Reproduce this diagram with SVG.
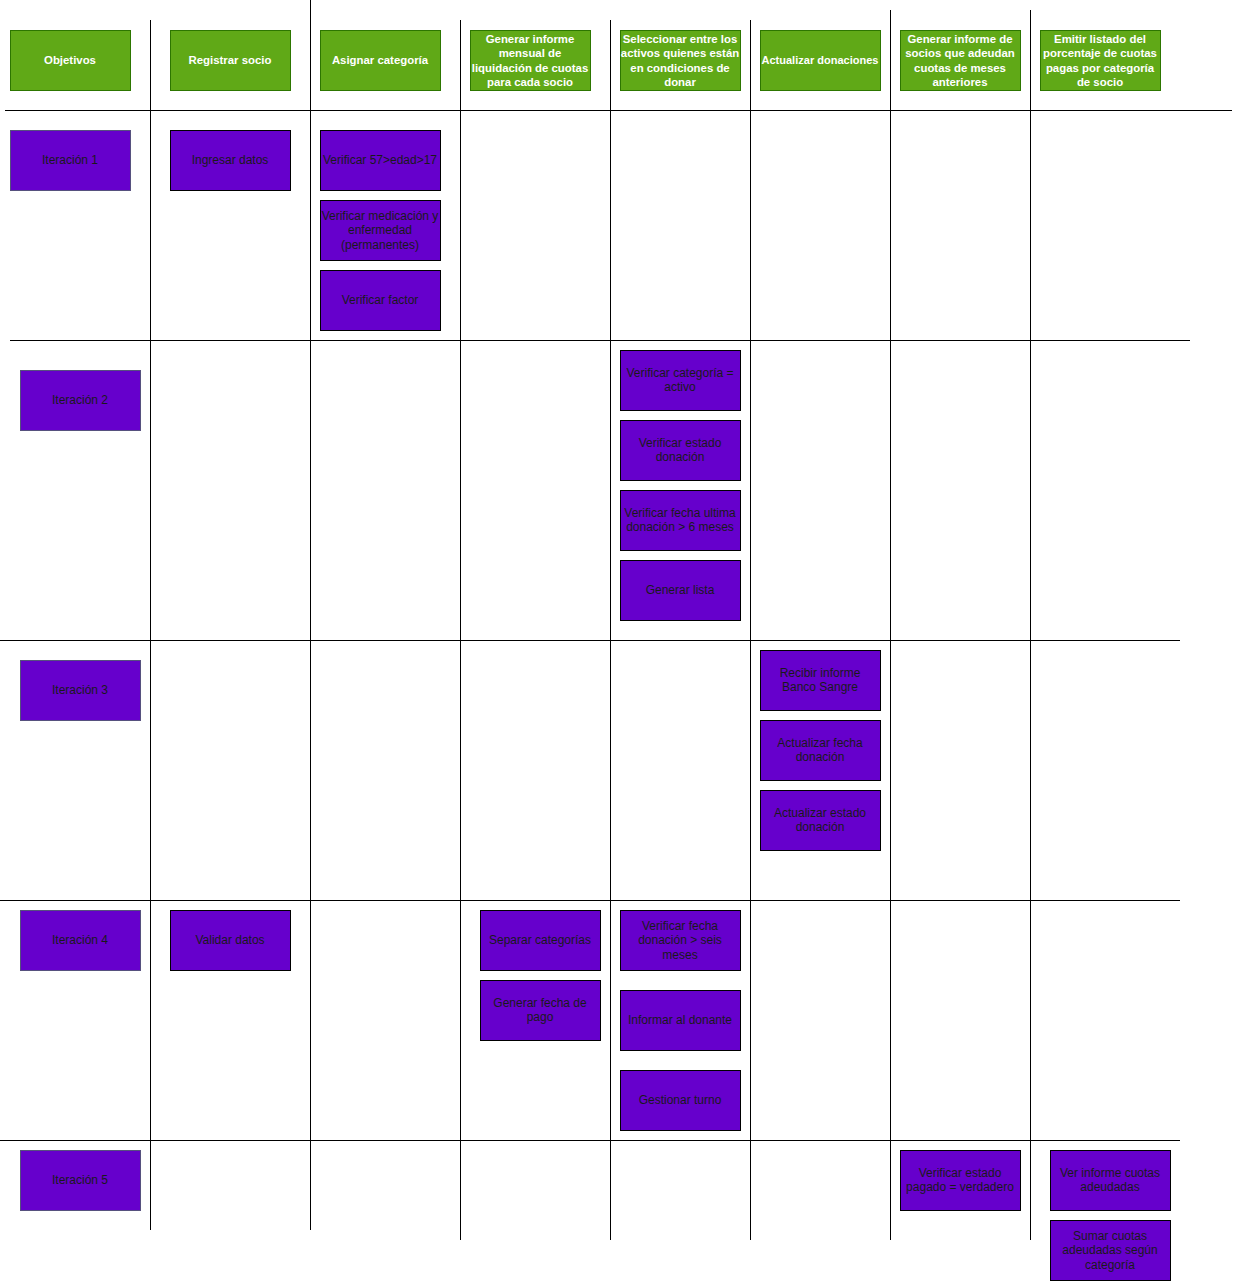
<svg xmlns="http://www.w3.org/2000/svg" width="1235" height="1281" viewBox="0 0 1235 1281">
<style>
.g{fill:#60a917;stroke:#2d7600;stroke-width:1}
.p{fill:#6600cc;stroke:#000;stroke-width:1}
.pi{fill:#6600cc;stroke:#56517e;stroke-width:1}
.gt{font-family:"Liberation Sans",Arial,sans-serif;font-size:11.4px;font-weight:bold;fill:#fff;text-anchor:middle}
.pt{font-family:"Liberation Sans",Arial,sans-serif;font-size:12px;fill:#1a1a1a;text-anchor:middle}
.ln{stroke:#000;stroke-width:1;fill:none}
</style>
<rect width="1235" height="1281" fill="#fff"/>
<g id="connectors">
<line class="ln" x1="150.5" y1="20" x2="150.5" y2="1230"/>
<line class="ln" x1="310.5" y1="0" x2="310.5" y2="1230"/>
<line class="ln" x1="460.5" y1="20" x2="460.5" y2="1240"/>
<line class="ln" x1="610.5" y1="20" x2="610.5" y2="1240"/>
<line class="ln" x1="750.5" y1="20" x2="750.5" y2="1240"/>
<line class="ln" x1="890.5" y1="10" x2="890.5" y2="1240"/>
<line class="ln" x1="1030.5" y1="10" x2="1030.5" y2="1240"/>
<line class="ln" x1="5" y1="110.5" x2="1232" y2="110.5"/>
<line class="ln" x1="10" y1="340.5" x2="1190" y2="340.5"/>
<line class="ln" x1="0" y1="640.5" x2="1180" y2="640.5"/>
<line class="ln" x1="0" y1="900.5" x2="1180" y2="900.5"/>
<line class="ln" x1="0" y1="1140.5" x2="1180" y2="1140.5"/>
</g>
<g id="h1"><rect class="g" x="10.5" y="30.5" width="120" height="60"/><text class="gt" x="70" y="64">Objetivos</text></g>
<g id="h2"><rect class="g" x="170.5" y="30.5" width="120" height="60"/><text class="gt" x="230" y="64">Registrar socio</text></g>
<g id="h3"><rect class="g" x="320.5" y="30.5" width="120" height="60"/><text class="gt" x="380" y="64">Asignar categoría</text></g>
<g id="h4"><rect class="g" x="470.5" y="30.5" width="120" height="60"/><text class="gt" x="530" y="43"><tspan x="530">Generar informe</tspan><tspan x="530" dy="14.4">mensual de</tspan><tspan x="530" dy="14.4">liquidación de cuotas</tspan><tspan x="530" dy="14.4">para cada socio</tspan></text></g>
<g id="h5"><rect class="g" x="620.5" y="30.5" width="120" height="60"/><text class="gt" x="680" y="43"><tspan x="680">Seleccionar entre los</tspan><tspan x="680" dy="14.4">activos quienes están</tspan><tspan x="680" dy="14.4">en condiciones de</tspan><tspan x="680" dy="14.4">donar</tspan></text></g>
<g id="h6"><rect class="g" x="760.5" y="30.5" width="120" height="60"/><text class="gt" x="820" y="64" textLength="117" lengthAdjust="spacingAndGlyphs">Actualizar donaciones</text></g>
<g id="h7"><rect class="g" x="900.5" y="30.5" width="120" height="60"/><text class="gt" x="960" y="43"><tspan x="960">Generar informe de</tspan><tspan x="960" dy="14.4">socios que adeudan</tspan><tspan x="960" dy="14.4">cuotas de meses</tspan><tspan x="960" dy="14.4">anteriores</tspan></text></g>
<g id="h8"><rect class="g" x="1040.5" y="30.5" width="120" height="60"/><text class="gt" x="1100" y="43"><tspan x="1100">Emitir listado del</tspan><tspan x="1100" dy="14.4">porcentaje de cuotas</tspan><tspan x="1100" dy="14.4">pagas por categoría</tspan><tspan x="1100" dy="14.4">de socio</tspan></text></g>

<g id="it1"><rect class="pi" x="10.5" y="130.5" width="120" height="60"/><text class="pt" x="70" y="164">Iteración 1</text></g>
<g id="it2"><rect class="pi" x="20.5" y="370.5" width="120" height="60"/><text class="pt" x="80" y="404">Iteración 2</text></g>
<g id="it3"><rect class="pi" x="20.5" y="660.5" width="120" height="60"/><text class="pt" x="80" y="694">Iteración 3</text></g>
<g id="it4"><rect class="pi" x="20.5" y="910.5" width="120" height="60"/><text class="pt" x="80" y="944">Iteración 4</text></g>
<g id="it5"><rect class="pi" x="20.5" y="1150.5" width="120" height="60"/><text class="pt" x="80" y="1184">Iteración 5</text></g>

<g id="n-ingresar"><rect class="p" x="170.5" y="130.5" width="120" height="60"/><text class="pt" x="230" y="164">Ingresar datos</text></g>
<g id="n-validar"><rect class="p" x="170.5" y="910.5" width="120" height="60"/><text class="pt" x="230" y="944">Validar datos</text></g>

<g id="n-edad"><rect class="p" x="320.5" y="130.5" width="120" height="60"/><text class="pt" x="380" y="164">Verificar 57&gt;edad&gt;17</text></g>
<g id="n-medic"><rect class="p" x="320.5" y="200.5" width="120" height="60"/><text class="pt" x="380" y="220"><tspan x="380">Verificar medicación y</tspan><tspan x="380" dy="14.4">enfermedad</tspan><tspan x="380" dy="14.4">(permanentes)</tspan></text></g>
<g id="n-factor"><rect class="p" x="320.5" y="270.5" width="120" height="60"/><text class="pt" x="380" y="304">Verificar factor</text></g>

<g id="n-separar"><rect class="p" x="480.5" y="910.5" width="120" height="60"/><text class="pt" x="540" y="944">Separar categorías</text></g>
<g id="n-fechapago"><rect class="p" x="480.5" y="980.5" width="120" height="60"/><text class="pt" x="540" y="1007"><tspan x="540">Generar fecha de</tspan><tspan x="540" dy="14.4">pago</tspan></text></g>

<g id="n-vcat"><rect class="p" x="620.5" y="350.5" width="120" height="60"/><text class="pt" x="680" y="377"><tspan x="680">Verificar categoría =</tspan><tspan x="680" dy="14.4">activo</tspan></text></g>
<g id="n-vestado"><rect class="p" x="620.5" y="420.5" width="120" height="60"/><text class="pt" x="680" y="447"><tspan x="680">Verificar estado</tspan><tspan x="680" dy="14.4">donación</tspan></text></g>
<g id="n-vfecha"><rect class="p" x="620.5" y="490.5" width="120" height="60"/><text class="pt" x="680" y="517"><tspan x="680">Verificar fecha ultima</tspan><tspan x="680" dy="14.4">donación &gt; 6 meses</tspan></text></g>
<g id="n-lista"><rect class="p" x="620.5" y="560.5" width="120" height="60"/><text class="pt" x="680" y="594">Generar lista</text></g>
<g id="n-vseis"><rect class="p" x="620.5" y="910.5" width="120" height="60"/><text class="pt" x="680" y="930"><tspan x="680">Verificar fecha</tspan><tspan x="680" dy="14.4">donación &gt; seis</tspan><tspan x="680" dy="14.4">meses</tspan></text></g>
<g id="n-informar"><rect class="p" x="620.5" y="990.5" width="120" height="60"/><text class="pt" x="680" y="1024">Informar al donante</text></g>
<g id="n-turno"><rect class="p" x="620.5" y="1070.5" width="120" height="60"/><text class="pt" x="680" y="1104">Gestionar turno</text></g>

<g id="n-recibir"><rect class="p" x="760.5" y="650.5" width="120" height="60"/><text class="pt" x="820" y="677"><tspan x="820">Recibir informe</tspan><tspan x="820" dy="14.4">Banco Sangre</tspan></text></g>
<g id="n-actfecha"><rect class="p" x="760.5" y="720.5" width="120" height="60"/><text class="pt" x="820" y="747"><tspan x="820">Actualizar fecha</tspan><tspan x="820" dy="14.4">donación</tspan></text></g>
<g id="n-actestado"><rect class="p" x="760.5" y="790.5" width="120" height="60"/><text class="pt" x="820" y="817"><tspan x="820">Actualizar estado</tspan><tspan x="820" dy="14.4">donación</tspan></text></g>

<g id="n-pagado"><rect class="p" x="900.5" y="1150.5" width="120" height="60"/><text class="pt" x="960" y="1177"><tspan x="960">Verificar estado</tspan><tspan x="960" dy="14.4">pagado = verdadero</tspan></text></g>
<g id="n-verinf"><rect class="p" x="1050.5" y="1150.5" width="120" height="60"/><text class="pt" x="1110" y="1177"><tspan x="1110">Ver informe cuotas</tspan><tspan x="1110" dy="14.4">adeudadas</tspan></text></g>
<g id="n-sumar"><rect class="p" x="1050.5" y="1220.5" width="120" height="60"/><text class="pt" x="1110" y="1240"><tspan x="1110">Sumar cuotas</tspan><tspan x="1110" dy="14.4">adeudadas según</tspan><tspan x="1110" dy="14.4">categoría</tspan></text></g>
</svg>
